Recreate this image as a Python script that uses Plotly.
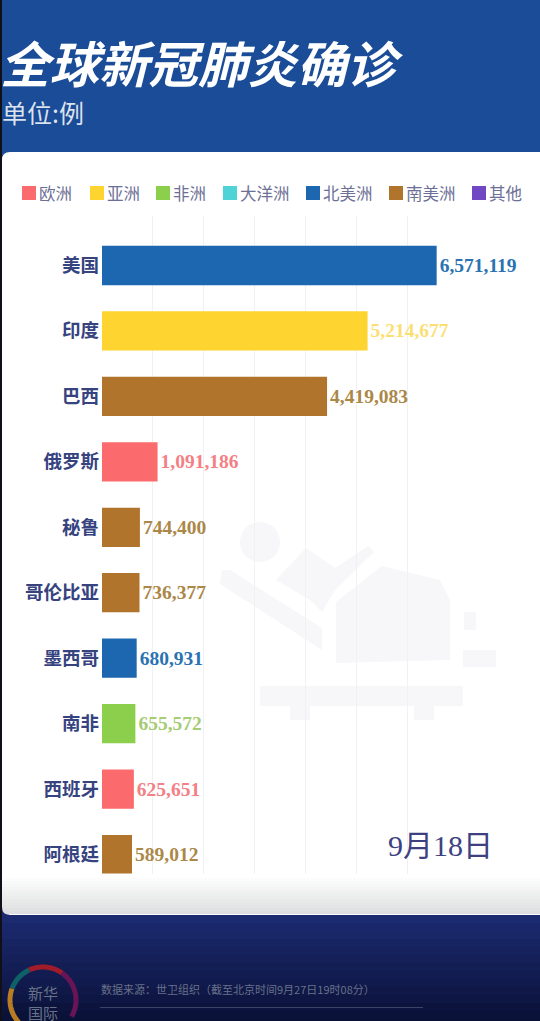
import numpy as np
import plotly.graph_objects as go

W, H = 540, 1021

# data
countries = ["美国", "印度", "巴西", "俄罗斯", "秘鲁", "哥伦比亚", "墨西哥", "南非", "西班牙", "阿根廷"]
cases = [6571119, 5214677, 4419083, 1091186, 744400, 736377, 680931, 655572, 625651, 589012]
continent_of = ["北美洲", "亚洲", "南美洲", "欧洲", "南美洲", "南美洲", "北美洲", "非洲", "欧洲", "南美洲"]

continents = ["欧洲", "亚洲", "非洲", "大洋洲", "北美洲", "南美洲", "其他"]
continent_colors = ["#fb6b6d", "#fed431", "#8ccf4d", "#4fd3d6", "#1d66b0", "#b0742c", "#7048c4"]
label_colors = ["#f47f84", "#fbdf74", "#a6cc74", "#6fd6d8", "#2a72b2", "#ab8748", "#7a58c4"]
legend_x = [22, 90, 156, 223, 306, 389, 472]

grid_ticks = [0, 1000000, 2000000, 3000000, 4000000, 5000000, 6000000]


def px(x):
    return x / W


def py(y):
    return 1 - y / H


def rect(x0, y0, x1, y1, color):
    return dict(type="rect", xref="paper", yref="paper", x0=px(x0), x1=px(x1), y0=py(y0), y1=py(y1),
                fillcolor=color, line_width=0, layer="below")


def path(points, close=True):
    d = "M" + " L".join(f"{px(x):.4f},{py(y):.4f}" for x, y in points)
    return d + (" Z" if close else "")


def mix(a, b, t):
    return "rgb(" + ",".join(str(int(a[i] + (b[i] - a[i]) * t)) for i in range(3)) + ")"


shapes = []

# background bands
shapes.append(rect(0, 0, W, 160, "#1a4c97"))
for i in range(20):
    y = 160 + i * 43
    shapes.append(rect(0, y, W, y + 43, mix((26, 76, 151), (28, 42, 112), i / 19)))
for i in range(14):
    y = 915 + i * 8
    shapes.append(rect(0, y, W, y + 8, mix((28, 42, 112), (10, 17, 54), i / 13)))
shapes.append(rect(0, 0, 2, H, "#101018"))

# white card, rounded corners
r = 8
shapes.append(dict(
    type="path", xref="paper", yref="paper", layer="below", fillcolor="white", line_width=0,
    path=f"M{px(2)},{py(152 + r)} Q{px(2)},{py(152)} {px(2 + r)},{py(152)} L{px(540)},{py(152)} "
         f"L{px(540)},{py(915)} L{px(2 + r)},{py(915)} Q{px(2)},{py(915)} {px(2)},{py(915 - r)} Z"))
for i in range(13):
    y = 875 + i * 3
    shapes.append(rect(2, y, W, y + 3, mix((255, 255, 255), (222, 223, 224), i / 12)))
# corner again on top of the shaded bands
shapes.append(dict(
    type="path", xref="paper", yref="paper", layer="below", fillcolor="#1c2a70", line_width=0,
    path=f"M{px(2)},{py(915 - r)} Q{px(2)},{py(915)} {px(2 + r)},{py(915)} L{px(2)},{py(915)} Z"))

# faint watermark
mark = "#f7f7fa"
shapes.append(dict(type="circle", xref="paper", yref="paper", layer="below", fillcolor=mark, line_width=0,
                   x0=px(240), x1=px(280), y0=py(522), y1=py(562)))
shapes.append(dict(type="path", xref="paper", yref="paper", layer="below", fillcolor=mark, line_width=0,
                   path=path([(222, 570), (230, 570), (322, 628), (322, 650), (220, 584)])))
shapes.append(dict(type="path", xref="paper", yref="paper", layer="below", fillcolor=mark, line_width=0,
                   path=path([(276, 580), (306, 548), (335, 568), (368, 546), (374, 552), (335, 590),
                              (322, 612), (310, 600)])))
shapes.append(dict(type="path", xref="paper", yref="paper", layer="below", fillcolor=mark, line_width=0,
                   path=path([(336, 602), (382, 566), (440, 580), (450, 600), (450, 660), (336, 663)])))
shapes.append(rect(464, 612, 476, 630, mark))
shapes.append(rect(463, 650, 496, 667, mark))
shapes.append(rect(260, 686, 463, 706, mark))
shapes.append(rect(290, 706, 310, 720, mark))
shapes.append(rect(414, 706, 434, 720, mark))

# legend swatches
for xpos, color in zip(legend_x, continent_colors):
    shapes.append(rect(xpos, 186, xpos + 14, 200, color))

# logo ring and footer rule
ring = [(55, 115, "#a01c2a"), (-30, 55, "#6a1458"), (115, 160, "#0f6068"), (160, 235, "#b87c22")]
for a0, a1, color in ring:
    t = np.radians(np.linspace(a0, a1, 24))
    pts = list(zip(43 + 33 * np.cos(t), 1000 - 33 * np.sin(t)))
    shapes.append(dict(type="path", xref="paper", yref="paper", layer="below", line=dict(color=color, width=5),
                       path=path(pts, close=False)))
shapes.append(rect(100, 1007, 423, 1008, "#3a4468"))

annotations = []


def note(text, x, y, size, color, family="Noto Sans CJK SC", anchor="left"):
    annotations.append(dict(text=text, xref="paper", yref="paper", x=px(x), y=py(y), xanchor=anchor, yanchor="middle",
                            showarrow=False, font=dict(family=family, size=size, color=color), borderpad=0))


note("单位:例", 1, 112, 25, "rgba(255,255,255,0.85)")
for xpos, name in zip(legend_x, continents):
    note(name, xpos + 16, 193, 16.5, "#6d7096")
note("9月18日", 387, 845, 30, "#3d4181", family="Liberation Serif, Noto Sans CJK SC")
note("数据来源：世卫组织（截至北京时间9月27日19时08分）", 100, 989, 11, "#68718a")
note("新华<br>国际", 43, 1002, 15, "#677289", anchor="center")

fig = go.Figure(go.Bar(
    x=cases,
    y=countries,
    orientation="h",
    width=0.6,
    cliponaxis=False,
    marker=dict(color=[continent_colors[continents.index(c)] for c in continent_of], line_width=0),
    text=[f"{v:,}" for v in cases],
    textposition="outside",
    textfont=dict(family="Liberation Serif", size=19.5, weight=700,
                  color=[label_colors[continents.index(c)] for c in continent_of]),
    hoverinfo="skip",
))

fig.update_layout(
    width=W,
    height=H,
    margin=dict(l=0, r=0, t=0, b=0),
    paper_bgcolor="#1a4c97",
    plot_bgcolor="rgba(0,0,0,0)",
    showlegend=False,
    title=dict(text="<b><i>全球新冠肺炎确诊</i></b>", x=0, xanchor="left", xref="paper",
               y=py(66), yanchor="middle", yref="paper", pad=dict(l=0),
               font=dict(family="Noto Sans CJK SC", size=49.5, color="white")),
    shapes=shapes,
    annotations=annotations,
    uniformtext=dict(mode=False),
)
fig.update_xaxes(
    domain=[px(102), 1], range=[0, 8600000], tickvals=grid_ticks, showticklabels=False,
    showgrid=True, gridcolor="#f1f1f4", gridwidth=1, zeroline=False, showline=False,
)
fig.update_yaxes(
    domain=[py(873.5), py(215.5)],
    categoryorder="array", categoryarray=countries,
    range=[9.29, -0.764],
    showgrid=False, zeroline=False, showline=False, ticks="",
    ticklabelstandoff=2,
    tickfont=dict(family="Noto Sans CJK SC", size=18.5, weight=700, color="#36437f"),
)

fig.write_html("out.html", config=dict(displayModeBar=False), post_script="document.body.style.margin='0';")
